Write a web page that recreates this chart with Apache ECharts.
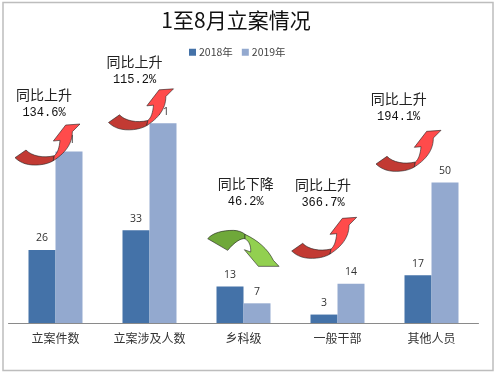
<!DOCTYPE html>
<html><head><meta charset="utf-8">
<style>html,body{margin:0;padding:0;background:#fff}#c{width:500px;height:373px}</style>
<script src="https://cdn.jsdelivr.net/npm/echarts@6/dist/echarts.min.js"></script>
</head><body><div id="c"></div>
<script>
const categories = ['立案件数','立案涉及人数','乡科级','一般干部','其他人员'];
const values2018 = [26,33,13,3,17];
const values2019 = [61,71,7,14,50];
const noteHeads = ['同比上升','同比上升','同比下降','同比上升','同比上升'];
const noteValues = ['134.6%','115.2%','46.2%','366.7%','194.1%'];
const notePos = [[44,95],[134.5,62],[245.7,184],[323,185],[398.7,99]];
const redArrows = [[15,157.7],[108.5,122.5],[291.7,251],[376,164]];
const greenArrow = [207.7,238.7];

const serif = '"Liberation Mono","Noto Sans CJK SC"';
const cjk = '"Noto Sans CJK SC"';
const redTail = 'M0 0 L33 -23 C50 -5 85 2 118 -6 L115 9 C95 22 55 26 30 18 C18 14 8 8 0 0 Z';
const redHead = 'M118 -6 C128 -14 133 -30 135 -52 L115 -50 L152 -98 L195 -101 L172 -78 C172 -50 160 -20 115 9 Z';
const greenTail = 'M0 0 C15 -18 45 -25 77 -25 C90 -25 105 -20 112 -13 L112 0 C100 -2 80 10 60 35 Z';
const greenHead = 'M112 -13 C150 5 180 30 197 65 L214 83 L152 83 L110 33 L129 40 C130 22 125 8 112 0 Z';
const arrowSets = redArrows.map(p => ({p, a: redTail, ac: '#C23A33', b: redHead, bc: '#FF4B4B'}))
  .concat([{p: greenArrow, a: greenTail, ac: '#6FA83A', b: greenHead, bc: '#92D050'}]);

const chart = echarts.init(document.getElementById('c'), null, {renderer:'canvas'});
const noteText = [];
notePos.forEach((p,i) => {
  noteText.push({type:'text', z:60, x:p[0], y:p[1], style:{text:noteHeads[i], font:'14px '+cjk, fill:'#222', align:'center', verticalAlign:'middle'}});
  noteText.push({type:'text', z:60, x:p[0], y:p[1]+18, style:{text:noteValues[i], font:'12px '+serif, fill:'#111', align:'center', verticalAlign:'middle'}});
});
chart.setOption({
  animation:false,
  backgroundColor:'#fff',
  title:{text:'1至8月立案情况', left:231, top:15, textAlign:'center', textVerticalAlign:'middle',
    textStyle:{fontFamily:cjk, fontSize:21, fontWeight:'normal', color:'#111'}},
  legend:{data:['2018年','2019年'], left:184, top:42, itemWidth:7, itemHeight:7, itemGap:9, icon:'rect',
    textStyle:{fontFamily:cjk, fontSize:10.5, color:'#444', padding:[0,0,0,-2]}},
  grid:{left:8.5, width:470, top:98, height:225},
  xAxis:{type:'category', data:categories, axisTick:{show:false},
    axisLine:{lineStyle:{color:'#8a8a8a', width:1}},
    axisLabel:{fontFamily:cjk, fontSize:12, color:'#333', margin:9}},
  yAxis:{type:'value', min:0, max:80, show:false},
  series:[
    {name:'2018年', type:'bar', data:values2018, barWidth:27, barGap:0, itemStyle:{color:'#4472A8'},
      label:{show:true, position:'top', distance:6, fontFamily:'"Open Sans"', fontSize:10.5, color:'#333'}},
    {name:'2019年', type:'bar', data:values2019, barWidth:27, itemStyle:{color:'#93A9CF'},
      label:{show:true, position:'top', distance:6, fontFamily:'"Open Sans"', fontSize:10.5, color:'#333'}},
    {type:'custom', coordinateSystem:'none', silent:true, z:50, data:arrowSets.map((_,i)=>i),
      renderItem:(params) => {
        const s = arrowSets[params.dataIndex];
        const stroke = {stroke:'#222', lineWidth:1.8};
        return {type:'group', x:s.p[0], y:s.p[1], scaleX:1/3, scaleY:1/3, children:[
          {type:'path', shape:{pathData:s.a}, style:Object.assign({fill:s.ac}, stroke)},
          {type:'path', shape:{pathData:s.b}, style:Object.assign({fill:s.bc}, stroke)}
        ]};
      }}
  ],
  color:['#4472A8','#93A9CF'],
  graphic:[
    {type:'rect', z:0, shape:{x:3,y:2.5,width:490,height:368}, style:{fill:'none', stroke:'#bdbdbd', lineWidth:1.5}}
  ].concat(noteText)
});
</script></body></html>
